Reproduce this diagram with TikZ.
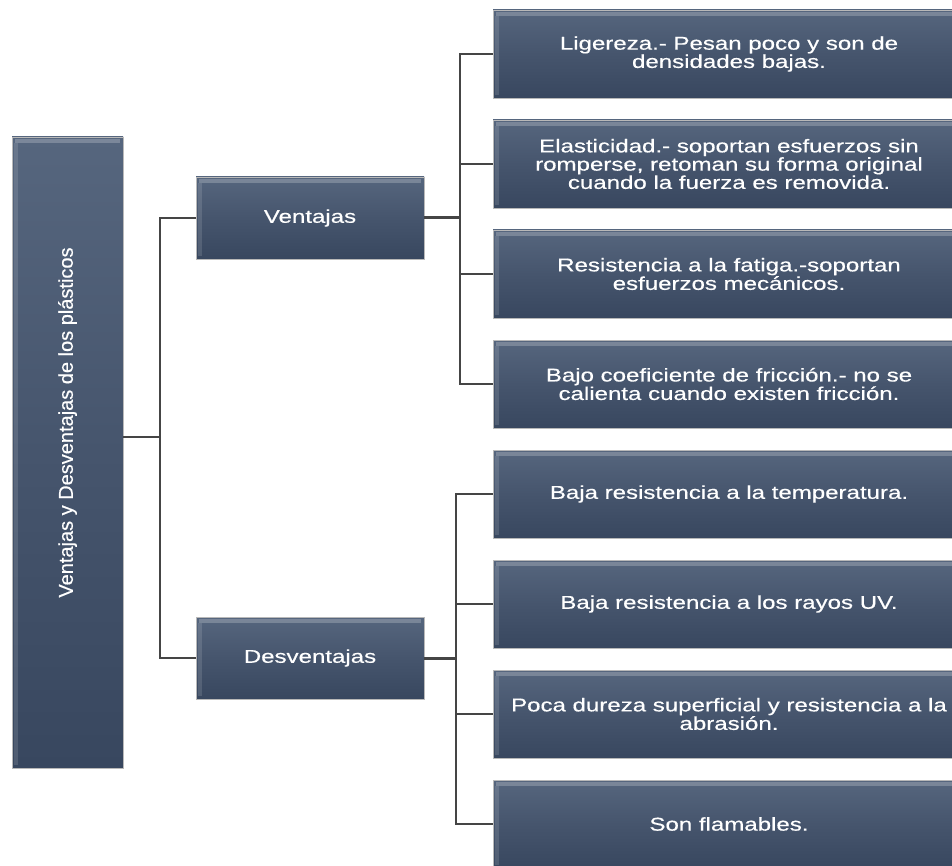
\documentclass[tikz,border=0pt]{standalone}
\usepackage{fontspec}
\setmainfont{Liberation Sans}[FakeBold=0.4]
\newfontfamily\boxfont{Liberation Sans}[FakeStretch=1.3,FakeBold=0.5]
\usepackage{tikz}
\usetikzlibrary{positioning,calc}
\definecolor{boxtop}{HTML}{56667E}
\definecolor{boxmid}{HTML}{46556D}
\definecolor{boxbot}{HTML}{38475F}
\definecolor{linegray}{HTML}{454545}
\tikzset{
  card/.style={rectangle, draw=gray!55, line width=0.8pt, top color=boxtop, bottom color=boxbot, middle color=boxmid, text=white, align=center, inner sep=0pt, font=\boxfont\fontsize{18.5}{16.5}\selectfont,
    path picture={\fill[white, opacity=0.22] ([xshift=3pt,yshift=-2pt]path picture bounding box.north west) rectangle ([xshift=-3pt,yshift=-6pt]path picture bounding box.north east);
                  \fill[white, opacity=0.12] ([xshift=2pt,yshift=-6pt]path picture bounding box.north west) rectangle ([xshift=6pt,yshift=3pt]path picture bounding box.south west);}},
  leaf/.style={card, minimum width=472pt, minimum height=88pt},
  branch/.style={card, minimum width=228pt, minimum height=82pt},
  link/.style={draw=linegray, line width=1.8pt},
}
\begin{document}
\begin{tikzpicture}[x=1pt,y=-1pt]
    \useasboundingbox (0,0) rectangle (952,866);

    % Root
    \node[card, minimum width=111pt, minimum height=631pt, font=\normalfont\fontsize{20}{22}\selectfont] (root) at (67.5,452.5)
        {\rotatebox{90}{\hspace*{60pt}Ventajas y Desventajas de los plásticos}};

    % Ventajas / Desventajas
    \node[branch] (ven) at (310,218) {Ventajas};
    \node[branch] (des) at (310,658) {Desventajas};

    % Ventajas
    \node[leaf] (l1) at (729,54) {Ligereza.- Pesan poco y son de\\densidades bajas.};
    \node[leaf] (l2) at (729,164) {Elasticidad.- soportan esfuerzos sin\\romperse, retoman su forma original\\cuando la fuerza es removida.};
    \node[leaf] (l3) at (729,274) {Resistencia a la fatiga.-soportan\\esfuerzos mecánicos.};
    \node[leaf] (l4) at (729,384) {Bajo coeficiente de fricción.- no se\\calienta cuando existen fricción.};

    % Desventajas
    \node[leaf] (l5) at (729,494) {Baja resistencia a la temperatura.};
    \node[leaf] (l6) at (729,604) {Baja resistencia a los rayos UV.};
    \node[leaf] (l7) at (729,714) {Poca dureza superficial y resistencia a la\\abrasión.};
    \node[leaf] (l8) at (729,824) {Son flamables.};

    % Connectors
    \coordinate (jr) at (160,437);
    \coordinate (jv) at (460,218);
    \coordinate (jd) at (456,658);
    \draw[link] (root.east |- jr) -- (jr);
    \draw[link] (jr) |- (ven.west);
    \draw[link] (jr) |- (des.west);
    \draw[link, line width=3pt] (ven.east) -- (jv);
    \draw[link, line width=3pt] (des.east) -- (jd);
    \foreach \n in {l1,l2,l3,l4} \draw[link] (jv) |- (\n.west);
    \foreach \n in {l5,l6,l7,l8} \draw[link] (jd) |- (\n.west);
\end{tikzpicture}
\end{document}
